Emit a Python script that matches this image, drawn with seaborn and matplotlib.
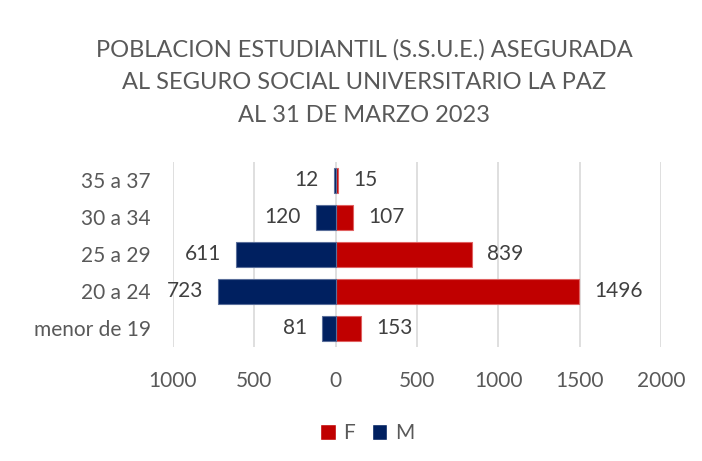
import matplotlib
matplotlib.use("Agg")
import matplotlib.pyplot as plt
from matplotlib.ticker import FuncFormatter
from matplotlib.patches import Patch
import seaborn as sns
import pandas as pd

categories = ["35 a 37", "30 a 34", "25 a 29", "20 a 24", "menor de 19"]
female = [15, 107, 839, 1496, 153]
male = [12, 120, 611, 723, 81]
x_ticks = [-1000, -500, 0, 500, 1000, 1500, 2000]
title = "POBLACION ESTUDIANTIL (S.S.U.E.) ASEGURADA\nAL SEGURO SOCIAL UNIVERSITARIO LA PAZ\nAL 31 DE MARZO 2023"

RED = "#C00000"
NAVY = "#002060"
GREY = "#595959"

df = pd.concat([
    pd.DataFrame({"grupo": categories, "valor": female, "sexo": "F"}),
    pd.DataFrame({"grupo": categories, "valor": [-v for v in male], "sexo": "M"}),
])

sns.set_theme(style="white")
plt.rcParams["font.family"] = ["Lato", "DejaVu Sans"]

fig = plt.figure(figsize=(7.02, 4.61), dpi=100)
ax = fig.add_axes([0.2464, 0.2473, 0.6952, 0.4013])

sns.barplot(data=df, y="grupo", x="valor", hue="sexo", order=categories,
            hue_order=["F", "M"], palette={"F": RED, "M": NAVY},
            dodge=False, orient="h", width=0.67, ax=ax, legend=False,
            saturation=1, zorder=3)

edge = {0: "#E06060", 1: "#5A6E9A"}
for i, cont in enumerate(ax.containers):
    for p in cont:
        p.set_edgecolor(edge[i])
        p.set_linewidth(0.8)
    vals = female if i == 0 else male
    ax.bar_label(cont, labels=[str(v) for v in vals], padding=11,
                 fontsize=15, color="#404040")

ax.set_xlim(-1000, 2000)
ax.set_xticks(x_ticks)
ax.xaxis.set_major_formatter(FuncFormatter(lambda v, p: f"{abs(int(v))}"))
ax.grid(axis="x", color="#D9D9D9", linewidth=1.2, zorder=0)
ax.grid(axis="y", visible=False)
ax.set_axisbelow(True)
for s in ax.spines.values():
    s.set_visible(False)
ax.set_xlabel("")
ax.set_ylabel("")
ax.tick_params(axis="x", length=0, pad=17, labelsize=15, labelcolor=GREY)
ax.tick_params(axis="y", length=0, pad=16, labelsize=15, labelcolor=GREY)

fig.text(0.519, 0.915, title, ha="center", va="top", fontsize=17,
         color=GREY, linespacing=1.68)

handles = [Patch(facecolor=RED, label="F"), Patch(facecolor=NAVY, label="M")]
fig.legend(handles=handles, loc="center", bbox_to_anchor=(0.523, 0.06),
           ncol=2, frameon=False, fontsize=15, labelcolor=GREY,
           handlelength=0.75, handleheight=0.75, handletextpad=0.35,
           columnspacing=0.8)

fig.savefig("out.png", dpi=100)
